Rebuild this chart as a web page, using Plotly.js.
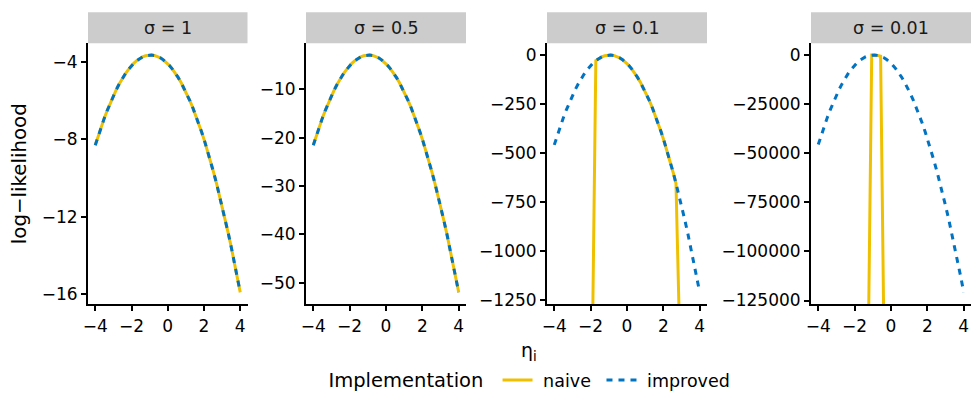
<!DOCTYPE html>
<html>
<head>
<meta charset="utf-8">
<script src="https://cdn.plot.ly/plotly-3.0.1.min.js"></script>
<style>html,body{margin:0;padding:0;background:#fff;}#chart{width:974px;height:398px;}</style>
</head>
<body>
<div id="chart"></div>
<script>
// eta_i grid (50 points from -4 to 4)
const eta = [-4, -3.837, -3.673, -3.510, -3.347, -3.184, -3.020, -2.857, -2.694, -2.531,
  -2.367, -2.204, -2.041, -1.878, -1.714, -1.551, -1.388, -1.224, -1.061, -0.898,
  -0.735, -0.571, -0.408, -0.245, -0.082, 0.082, 0.245, 0.408, 0.571, 0.735,
  0.898, 1.061, 1.224, 1.388, 1.551, 1.714, 1.878, 2.041, 2.204, 2.367,
  2.531, 2.694, 2.857, 3.020, 3.184, 3.347, 3.510, 3.673, 3.837, 4];

const NINF = -Infinity; // naive implementation underflows to -Inf

const sigmaLabels = ['σ = 1', 'σ = 0.5', 'σ = 0.1', 'σ = 0.01'];
const seriesNames = ['naive', 'improved'];

// sigma = 1
const improved_s1 = [-8.316, -7.831, -7.373, -6.941, -6.536, -6.158, -5.806, -5.481, -5.183, -4.911,
  -4.666, -4.448, -4.256, -4.092, -3.953, -3.841, -3.757, -3.698, -3.666, -3.661,
  -3.683, -3.731, -3.806, -3.908, -4.036, -4.191, -4.372, -4.580, -4.815, -5.077,
  -5.365, -5.680, -6.021, -6.389, -6.784, -7.205, -7.654, -8.128, -8.630, -9.158,
  -9.712, -10.294, -10.902, -11.536, -12.198, -12.886, -13.600, -14.342, -15.110, -15.904];
const naive_s1 = [-8.316, -7.831, -7.373, -6.941, -6.536, -6.158, -5.806, -5.481, -5.183, -4.911,
  -4.666, -4.448, -4.256, -4.092, -3.953, -3.841, -3.757, -3.698, -3.666, -3.661,
  -3.683, -3.731, -3.806, -3.908, -4.036, -4.191, -4.372, -4.580, -4.815, -5.077,
  -5.365, -5.680, -6.021, -6.389, -6.784, -7.205, -7.654, -8.128, -8.630, -9.158,
  -9.712, -10.294, -10.902, -11.536, -12.198, -12.886, -13.600, -14.342, -15.110, -15.904];

// sigma = 0.5
const improved_s05 = [-21.589, -19.649, -17.817, -16.091, -14.471, -12.958, -11.552, -10.252, -9.059, -7.972,
  -6.992, -6.120, -5.353, -4.693, -4.140, -3.693, -3.353, -3.119, -2.992, -2.972,
  -3.059, -3.252, -3.551, -3.957, -4.470, -5.090, -5.816, -6.649, -7.588, -8.634,
  -9.787, -11.046, -12.412, -13.885, -15.463, -17.149, -18.942, -20.840, -22.846, -24.959,
  -27.177, -29.503, -31.934, -34.473, -37.119, -39.870, -42.729, -45.695, -48.765, -51.944];
const naive_s05 = [-21.589, -19.649, -17.817, -16.091, -14.471, -12.958, -11.552, -10.252, -9.059, -7.972,
  -6.992, -6.120, -5.353, -4.693, -4.140, -3.693, -3.353, -3.119, -2.992, -2.972,
  -3.059, -3.252, -3.551, -3.957, -4.470, -5.090, -5.816, -6.649, -7.588, -8.634,
  -9.787, -11.046, -12.412, -13.885, -15.463, -17.149, -18.942, -20.840, -22.846, -24.959,
  -27.177, -29.503, -31.934, -34.473, -37.119, -39.870, -42.729, -45.695, -48.765, -51.944];

// sigma = 0.1
const improved_s01 = [-460.1, -412.1, -366.7, -324.1, -284.0, -246.7, -211.9, -179.9, -150.5, -123.8,
  -99.7, -78.3, -59.5, -43.3, -29.8, -19.0, -10.7, -5.06, -1.99, -1.50,
  -3.58, -8.26, -15.5, -25.4, -37.9, -53.0, -70.8, -91.2, -114.3, -140.0,
  -168.4, -199.4, -233.1, -269.5, -308.5, -350.2, -394.6, -441.5, -491.2, -543.6,
  -598.5, -656.2, -716.5, -779.5, -845.1, -913.4, -984.4, -1058.1, -1134.3, -1213.3];
const naive_s01 = [NINF, NINF, NINF, NINF, NINF, NINF, NINF, NINF, NINF, NINF,
  NINF, NINF, NINF, NINF, -29.8, -19.0, -10.7, -5.06, -1.99, -1.50,
  -3.58, -8.26, -15.5, -25.4, -37.9, -53.0, -70.8, -91.2, -114.3, -140.0,
  -168.4, -199.4, -233.1, -269.5, -308.5, -350.2, -394.6, -441.5, -491.2, -543.6,
  -598.5, -656.2, NINF, NINF, NINF, NINF, NINF, NINF, NINF, NINF];

// sigma = 0.01
const improved_s001 = [-45585, -40787, -36260, -31996, -27998, -24270, -20806, -17609, -14680, -12016,
  -9618, -7488, -5624, -4026, -2695, -1631, -833, -301, -35.3, -3.39,
  -168.7, -599.3, -1296, -2259, -3489, -4985, -6748, -8777, -11072, -13635,
  -16465, -19559, -22921, -26551, -30444, -34607, -39036, -43729, -48691, -53920,
  -59412, -65174, -71204, -77495, -84057, -90882, -97977, -105339, -112963, -120858];
const naive_s001 = [NINF, NINF, NINF, NINF, NINF, NINF, NINF, NINF, NINF, NINF,
  NINF, NINF, NINF, NINF, NINF, NINF, NINF, NINF, -35.3, -3.39,
  -168.7, -599.3, NINF, NINF, NINF, NINF, NINF, NINF, NINF, NINF,
  NINF, NINF, NINF, NINF, NINF, NINF, NINF, NINF, NINF, NINF,
  NINF, NINF, NINF, NINF, NINF, NINF, NINF, NINF, NINF, NINF];

const naiveSeries = [naive_s1, naive_s05, naive_s01, naive_s001];
const improvedSeries = [improved_s1, improved_s05, improved_s01, improved_s001];
const yDticks = [4, 10, 250, 25000];

// ---------- layout helpers ----------
const W = 974, H = 398;
const px = x => x / W;
const py = y => 1 - y / H;
const panelX = [[88, 247.5], [306, 466], [547, 707], [811, 971]];
const panelTop = 43.3, panelBottom = 305, stripTop = 12.3;
const FONT = 'DejaVu Sans, sans-serif';
const colNaive = '#EFC000', colImproved = '#0073C2';
const NB = '\u00a0';

const traces = [];
const layout = {
  width: W, height: H,
  margin: {l: 0, r: 0, t: 0, b: 0},
  paper_bgcolor: '#ffffff', plot_bgcolor: '#ffffff',
  font: {family: FONT, color: '#000000', size: 17},
  showlegend: true,
  legend: {
    orientation: 'h', x: px(531), xanchor: 'center', y: py(381), yanchor: 'middle',
    title: {text: 'Implementation' + NB, side: 'left', font: {size: 19.5, family: FONT, color: '#000'}},
    font: {size: 17.5, family: FONT, color: '#000'},
    itemwidth: 30, bgcolor: 'rgba(0,0,0,0)', tracegroupgap: 0
  },
  shapes: [], annotations: []
};

const xRange = [-4 - 0.05 * 8, 4 + 0.05 * 8];

for (let i = 0; i < 4; i++) {
  const imp = improvedSeries[i], nai = naiveSeries[i];
  const finite = imp.concat(nai).filter(v => isFinite(v));
  const lo = Math.min(...finite), hi = Math.max(...finite);
  const pad = 0.05 * (hi - lo);
  const yr = [lo - pad, hi + pad];
  // -Inf values are drawn at (just beyond) the panel's lower edge, as ggplot does
  const edge = yr[0] - 0.012 * (yr[1] - yr[0]);
  const naiY = nai.map(v => isFinite(v) ? v : edge);
  const s = i === 0 ? '' : String(i + 1);
  traces.push({
    x: eta, y: naiY, xaxis: 'x' + s, yaxis: 'y' + s, type: 'scatter', mode: 'lines',
    name: NB + seriesNames[0] + NB, legendgroup: 'naive', showlegend: i === 0,
    line: {color: colNaive, width: 3}
  });
  traces.push({
    x: eta, y: imp, xaxis: 'x' + s, yaxis: 'y' + s, type: 'scatter', mode: 'lines',
    name: NB + seriesNames[1], legendgroup: 'improved', showlegend: i === 0,
    line: {color: colImproved, width: 3, dash: '6px,6px'}
  });
  const common = {
    showgrid: false, zeroline: false, showline: true, linecolor: '#000', linewidth: 2,
    ticks: 'outside', ticklen: 5, tickwidth: 2, tickcolor: '#000',
    tickfont: {size: 17, family: FONT, color: '#000'}, automargin: false, fixedrange: true
  };
  layout['xaxis' + s] = Object.assign({}, common, {
    domain: [px(panelX[i][0]), px(panelX[i][1])], anchor: 'y' + s,
    range: xRange, tick0: 0, dtick: 2
  });
  layout['yaxis' + s] = Object.assign({}, common, {
    domain: [py(panelBottom), py(panelTop)], anchor: 'x' + s,
    range: yr, tick0: 0, dtick: yDticks[i], tickformat: 'd'
  });
  if (i === 0) {
    layout['yaxis'].title = {text: 'log−likelihood', font: {size: 19.8, family: FONT, color: '#000'}, standoff: 10};
  }
  layout.shapes.push({
    type: 'rect', xref: 'paper', yref: 'paper',
    x0: px(panelX[i][0]), x1: px(panelX[i][1]), y0: py(panelTop), y1: py(stripTop),
    fillcolor: '#CCCCCC', line: {width: 0}, layer: 'below'
  });
  layout.annotations.push({
    xref: 'paper', yref: 'paper', x: px((panelX[i][0] + panelX[i][1]) / 2), y: py((stripTop + panelTop) / 2),
    text: sigmaLabels[i], showarrow: false, xanchor: 'center', yanchor: 'middle',
    font: {size: 17.5, family: FONT, color: '#1a1a1a'}
  });
}

layout.annotations.push({
  xref: 'paper', yref: 'paper', x: px(529), y: py(352), text: 'η<sub>i</sub>',
  showarrow: false, xanchor: 'center', yanchor: 'middle',
  font: {size: 19, family: FONT, color: '#000'}
});

Plotly.newPlot('chart', traces, layout, {staticPlot: true, displayModeBar: false});
</script>
</body>
</html>
